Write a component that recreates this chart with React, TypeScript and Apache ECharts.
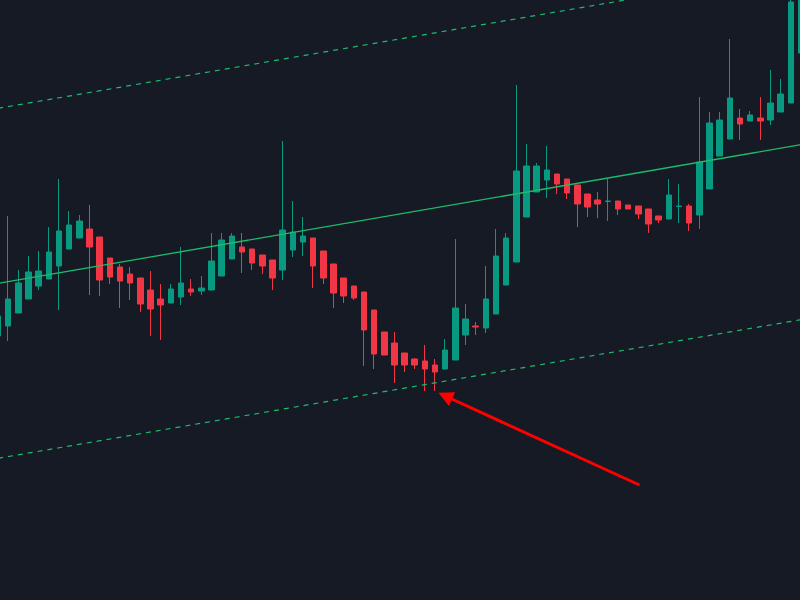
import React, { useEffect, useRef } from "react";
import * as echarts from "echarts";

// Candle values (price units; no axis is shown in the reference)
const opens = [264, 274, 287, 301, 314, 321, 334, 351, 362, 371, 363, 342, 333, 326, 322, 310, 301, 297, 303, 311, 309, 310, 324, 341, 353, 351, 345, 340, 330, 350, 358, 362, 349, 336, 322, 314, 308, 290, 268, 257, 247, 241, 239, 235, 231, 240, 265, 274, 272, 286, 315, 338, 383, 408, 420, 426, 421, 415, 406, 400, 398.5, 399, 395, 394, 391, 384, 381, 393.5, 394, 385, 411, 444, 461, 482, 479, 482, 480, 488, 497, 547];
const closes = [284, 301, 317, 328, 329, 348, 369, 375, 379, 353, 320, 323, 319, 317, 296, 291, 295, 311, 317, 308, 312, 339, 360, 364, 348, 337, 334, 322, 370, 368, 364, 334, 322, 307, 304, 302, 270, 246, 245, 235, 235, 235, 231, 228, 250, 292, 281, 273, 301, 344, 362, 429, 434, 434, 430, 416, 407, 396, 393, 396, 399, 391, 391, 386, 376, 380, 405, 394, 377, 438, 477, 480, 502, 476, 485, 479, 497, 506, 598, 620];
const lows = [260, 259, 287, 301, 310, 321, 290, 351, 362, 305, 304, 316, 292, 300, 288, 264, 260, 297, 295, 304, 305, 310, 324, 341, 327, 330, 326, 310, 320, 343, 344, 312, 316, 292, 297, 300, 234, 231, 245, 217, 228, 231, 209, 209, 231, 240, 255, 265, 267, 286, 315, 338, 383, 408, 402, 406, 401, 373, 383, 382, 379, 385, 391, 381, 367, 377, 381, 377, 369, 371, 411, 444, 461, 460, 479, 460, 475, 488, 497, 547];
const highs = [288, 384, 330, 344, 349, 373, 421, 389, 385, 395, 363, 342, 336, 333, 322, 329, 316, 316, 353, 321, 324, 367, 367, 367, 367, 351, 345, 340, 459, 399, 383, 362, 349, 336, 322, 314, 308, 290, 268, 268, 247, 242, 255, 241, 261, 361, 296, 278, 334, 371, 367, 515, 456, 437, 454, 426, 421, 415, 406, 408, 421, 399, 395, 394, 391, 384, 421, 416, 396, 503, 488, 488, 561, 491, 489, 503, 530, 521, 610, 630];

// Regression channel: [upper, middle, lower] at first and last candle
const channelStart = [491.7, 316.7, 141.7];
const channelEnd = [630.3, 455.3, 280.3];

// Annotation arrow: [candle index, price] for tail and head
const arrowFrom = [63, 115.5];
const arrowTo = [44, 204];

const UP = "#089981";
const DOWN = "#f23645";
const CHANNEL = "#1cbc6a";

export default function App() {
  const ref = useRef<HTMLDivElement>(null);
  useEffect(() => {
    if (!ref.current) return;
    document.documentElement.style.overflow = "hidden";
    document.body.style.overflow = "hidden";
    const chart = echarts.init(ref.current, null, { renderer: "svg" });
    const n = opens.length;
    const categories = opens.map((_, i) => String(i + 1));
    const candles = opens.map((o, i) => [o, closes[i], lows[i], highs[i]]);
    const lineData = (k: number) =>
      opens.map((_, i) => (i === 0 ? channelStart[k] : i === n - 1 ? channelEnd[k] : null));

    chart.setOption({
      animation: false,
      backgroundColor: "#161a25",
      grid: { left: 0, right: 0, top: 0, bottom: 0 },
      xAxis: {
        type: "category",
        data: categories,
        boundaryGap: true,
        axisLine: { show: false },
        axisTick: { show: false },
        axisLabel: { show: false },
        splitLine: { show: false },
      },
      yAxis: {
        type: "value",
        min: 0,
        max: 600,
        axisLine: { show: false },
        axisTick: { show: false },
        axisLabel: { show: false },
        splitLine: { show: false },
      },
      series: [
        {
          type: "line",
          data: lineData(0),
          connectNulls: true,
          symbol: "none",
          silent: true,
          lineStyle: { color: CHANNEL, width: 1.2, type: [5, 5] },
        },
        {
          type: "line",
          data: lineData(1),
          connectNulls: true,
          symbol: "none",
          silent: true,
          lineStyle: { color: CHANNEL, width: 1.3 },
        },
        {
          type: "line",
          data: lineData(2),
          connectNulls: true,
          symbol: "none",
          silent: true,
          lineStyle: { color: CHANNEL, width: 1.2, type: [5, 5] },
        },
        {
          type: "candlestick",
          data: candles,
          barWidth: 6,
          itemStyle: {
            color: UP,
            color0: DOWN,
            borderColor: UP,
            borderColor0: DOWN,
            borderWidth: 1,
          },
          markLine: {
            silent: true,
            symbol: ["none", "triangle"],
            symbolSize: 15,
            label: { show: false },
            lineStyle: { color: "#ff0000", width: 3, type: "solid", cap: "round" },
            itemStyle: { color: "#ff0000" },
            data: [[{ coord: arrowFrom }, { coord: arrowTo }]],
          },
        },
      ],
    });
    return () => chart.dispose();
  }, []);
  return (
    <div
      ref={ref}
      style={{ position: "fixed", left: -6.8, top: 0, width: 812.8, height: 600, background: "#161a25" }}
    />
  );
}
